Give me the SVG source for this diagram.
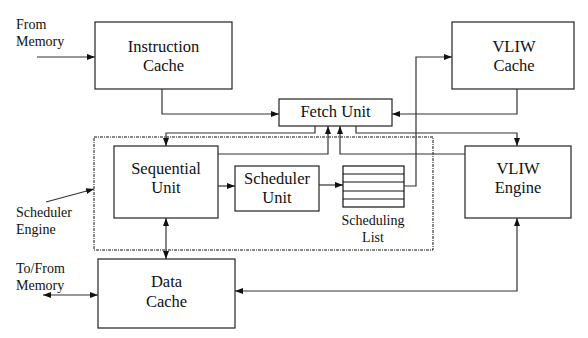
<svg xmlns="http://www.w3.org/2000/svg" width="588" height="338" viewBox="0 0 588 338">
<style>
.box{fill:#fff;stroke:#222;stroke-width:1.2}
.lbl{font-family:"Liberation Serif","Times New Roman",serif;font-size:16.5px;fill:#111;text-anchor:middle}
.side{font-family:"Liberation Serif","Times New Roman",serif;font-size:14px;fill:#111}
.conn{fill:none;stroke:#333;stroke-width:1.2}
.list{fill:none;stroke:#111;stroke-width:1.2}
</style>
<defs>
<marker id="ah" viewBox="0 0 8 6" refX="8" refY="3" markerWidth="8" markerHeight="6" markerUnits="userSpaceOnUse" orient="auto-start-reverse">
<path d="M0,0 L8,3 L0,6 Z" fill="#111"/>
</marker>
</defs>
<rect width="588" height="338" fill="#fff"/>
<g id="scheduler-engine">
<rect x="94" y="137" width="339" height="113" fill="none" stroke="#111" stroke-width="1" stroke-dasharray="3 1 1 1"/>
</g>
<g id="instruction-cache">
<rect class="box" x="95" y="22" width="137" height="67"/>
<text class="lbl" x="163.5" y="52">Instruction</text>
<text class="lbl" x="163.5" y="71">Cache</text>
</g>
<g id="vliw-cache">
<rect class="box" x="452" y="22" width="122" height="67"/>
<text class="lbl" x="514" y="52">VLIW</text>
<text class="lbl" x="514" y="71">Cache</text>
</g>
<g id="fetch-unit">
<rect class="box" x="279" y="99" width="113" height="27"/>
<text class="lbl" x="335.5" y="117">Fetch Unit</text>
</g>
<g id="sequential-unit">
<rect class="box" x="114" y="146" width="104" height="72"/>
<text class="lbl" x="166" y="174">Sequential</text>
<text class="lbl" x="166" y="193">Unit</text>
</g>
<g id="scheduler-unit">
<rect class="box" x="235" y="166" width="84" height="45"/>
<text class="lbl" x="277" y="184">Scheduler</text>
<text class="lbl" x="277" y="203">Unit</text>
</g>
<g id="scheduling-list">
<rect class="list" x="343" y="166" width="61" height="41"/>
<path class="list" d="M343,174H404M343,182H404M343,191H404M343,199H404"/>
<text class="side" x="373" y="225" text-anchor="middle">Scheduling</text>
<text class="side" x="373" y="242" text-anchor="middle">List</text>
</g>
<g id="vliw-engine">
<rect class="box" x="465" y="146" width="106" height="72"/>
<text class="lbl" x="518" y="174">VLIW</text>
<text class="lbl" x="518" y="193">Engine</text>
</g>
<g id="data-cache">
<rect class="box" x="98" y="259" width="137" height="69"/>
<text class="lbl" x="166.5" y="287">Data</text>
<text class="lbl" x="166.5" y="307">Cache</text>
</g>
<g id="labels">
<text class="side" x="16" y="29">From</text>
<text class="side" x="16" y="46">Memory</text>
<text class="side" x="16" y="217">Scheduler</text>
<text class="side" x="16" y="234">Engine</text>
<text class="side" x="16" y="273">To/From</text>
<text class="side" x="16" y="290">Memory</text>
</g>
<g id="connectors">
<path class="conn" d="M37,57H95" marker-end="url(#ah)"/>
<path class="conn" d="M162,89V114H279" marker-end="url(#ah)"/>
<path class="conn" d="M517,89V114H392" marker-end="url(#ah)"/>
<path class="conn" d="M315,126V133H166V146" marker-end="url(#ah)"/>
<path class="conn" d="M218,154H328V126" marker-end="url(#ah)"/>
<path class="conn" d="M465,154H340V126" marker-end="url(#ah)"/>
<path class="conn" d="M356,126V133H517V146" marker-end="url(#ah)"/>
<path class="conn" d="M218,186H235" marker-end="url(#ah)"/>
<path class="conn" d="M319,185H343" marker-end="url(#ah)"/>
<path class="conn" d="M404,186H416V57H452" marker-end="url(#ah)"/>
<path class="conn" d="M166,218V259" marker-start="url(#ah)" marker-end="url(#ah)"/>
<path class="conn" d="M235,291H517V218" marker-start="url(#ah)" marker-end="url(#ah)"/>
<path class="conn" d="M43,295H98" marker-start="url(#ah)" marker-end="url(#ah)"/>
<path class="conn" d="M46,202L94,189" marker-end="url(#ah)"/>
</g>
</svg>
